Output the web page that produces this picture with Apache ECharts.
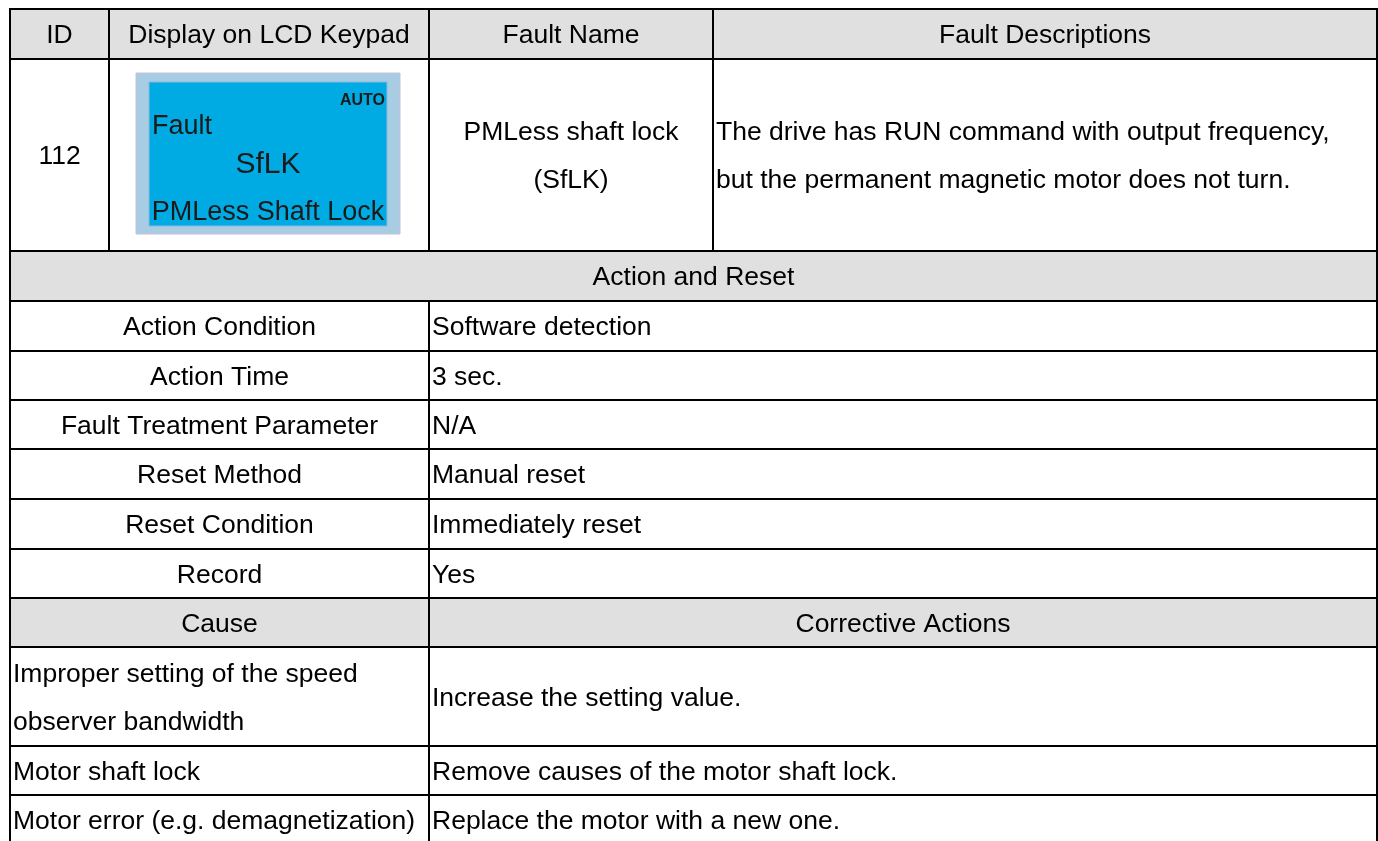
<!DOCTYPE html>
<html><head><meta charset="utf-8">
<script src="https://cdn.jsdelivr.net/npm/echarts@6/dist/echarts.min.js"></script>
<style>html,body{margin:0;padding:0;background:#fff}#c{width:1378px;height:841px}</style>
</head><body><div id="c"></div>
<script>
// ---- content ----
const headers = ['ID', 'Display on LCD Keypad', 'Fault Name', 'Fault Descriptions'];
const faultId = '112';
const lcdLines = ['AUTO', 'Fault', 'SfLK', 'PMLess Shaft Lock'];
const faultName = 'PMLess shaft lock\n(SfLK)';
const faultDesc = 'The drive has RUN command with output frequency,\nbut the permanent magnetic motor does not turn.';
const sectionTitle = 'Action and Reset';
const actionLabels = ['Action Condition', 'Action Time', 'Fault Treatment Parameter', 'Reset Method', 'Reset Condition', 'Record'];
const actionValues = ['Software detection', '3 sec.', 'N/A', 'Manual reset', 'Immediately reset', 'Yes'];
const causeHeaders = ['Cause', 'Corrective Actions'];
const causes = ['Improper setting of the speed\nobserver bandwidth', 'Motor shaft lock', 'Motor error (e.g. demagnetization)'];
const actions = ['Increase the setting value.', 'Remove causes of the motor shaft lock.', 'Replace the motor with a new one.'];

// ---- layout (axis units = px inside grid) ----
const TABLE_W = 1367, GRID_H = 832;
const TOP_COLS = [0, 99, 419, 703, TABLE_W];
const LOW_COLS = [0, 419, TABLE_W];
// last row runs past the bottom of the picture (table is cut off there)
const ROWS = [0, 50, 242, 292, 342, 391, 440, 490, 540, 589, 638, 737, 786, 835];
const HEAD = '#e0e0e0';
const FF = '"Liberation Sans", Arial, sans-serif';
const FONT = '26.5px ' + FF;
const TEXT_DY = 2;

const cells = [];
function add(r, c0, c1, text, opt) { cells.push(Object.assign({ r, c0, c1, text }, opt || {})); }
headers.forEach((h, i) => add(0, TOP_COLS[i], TOP_COLS[i + 1], h, { fill: HEAD, align: 'center' }));
add(1, TOP_COLS[0], TOP_COLS[1], faultId, { align: 'center' });
add(1, TOP_COLS[1], TOP_COLS[2], '', { lcd: true });
add(1, TOP_COLS[2], TOP_COLS[3], faultName, { align: 'center' });
add(1, TOP_COLS[3], TOP_COLS[4], faultDesc, { align: 'left' });
add(2, 0, TABLE_W, sectionTitle, { fill: HEAD, align: 'center' });
actionLabels.forEach((l, i) => {
  add(3 + i, LOW_COLS[0], LOW_COLS[1], l, { align: 'center' });
  add(3 + i, LOW_COLS[1], LOW_COLS[2], actionValues[i], { align: 'left' });
});
causeHeaders.forEach((h, i) => add(9, LOW_COLS[i], LOW_COLS[i + 1], h, { fill: HEAD, align: 'center' }));
causes.forEach((c, i) => {
  add(10 + i, LOW_COLS[0], LOW_COLS[1], c, { align: 'left' });
  add(10 + i, LOW_COLS[1], LOW_COLS[2], actions[i], { align: 'left' });
});

function renderItem(params, api) {
  const c = cells[params.dataIndex];
  const p0 = api.coord([c.c0, ROWS[c.r]]);
  const p1 = api.coord([c.c1, ROWS[c.r + 1]]);
  const x = p0[0], y = p0[1], w = p1[0] - p0[0], h = p1[1] - p0[1];
  const ch = [{ type: 'rect', shape: { x, y, width: w, height: h }, style: { fill: c.fill || '#fff', stroke: '#000', lineWidth: 2 } }];
  if (c.text) {
    ch.push({ type: 'text', style: {
      text: c.text, x: c.align === 'center' ? x + w / 2 : x + 3, y: y + h / 2 + TEXT_DY,
      align: c.align, verticalAlign: 'middle', font: FONT, lineHeight: 48, fill: '#000'
    } });
  }
  if (c.lcd) {
    const ox = x + 27, oy = y + 14;
    ch.push({ type: 'rect', shape: { x: ox, y: oy, width: 264, height: 161 }, style: { fill: '#a8cce2', stroke: '#c8c0e0', lineWidth: 1 } });
    const ix = x + 40, iy = y + 23, iw = 238, ih = 144;
    ch.push({ type: 'rect', shape: { x: ix, y: iy, width: iw, height: ih }, style: { fill: '#00aae2', stroke: '#8fb6e0', lineWidth: 1 } });
    const col = '#1a1a1a';
    ch.push({ type: 'text', style: { text: lcdLines[0], x: ix + iw - 2, y: iy + 19, align: 'right', verticalAlign: 'middle', font: 'bold 16px ' + FF, fill: col } });
    ch.push({ type: 'text', style: { text: lcdLines[1], x: ix + 3, y: iy + 45, align: 'left', verticalAlign: 'middle', font: '27px ' + FF, fill: col } });
    ch.push({ type: 'text', style: { text: lcdLines[2], x: ix + iw / 2, y: iy + 83, align: 'center', verticalAlign: 'middle', font: '30px ' + FF, fill: col } });
    ch.push({ type: 'text', style: { text: lcdLines[3], x: ix + iw / 2, y: iy + 131, align: 'center', verticalAlign: 'middle', font: '27px ' + FF, fill: col } });
  }
  return { type: 'group', children: ch };
}

const chart = echarts.init(document.getElementById('c'), null, { renderer: 'canvas' });
chart.setOption({
  animation: false,
  backgroundColor: '#fff',
  grid: { left: 10, top: 9, width: TABLE_W, height: GRID_H, outerBoundsMode: 'none', containLabel: false },
  xAxis: { type: 'value', min: 0, max: TABLE_W, show: false },
  yAxis: { type: 'value', min: 0, max: GRID_H, inverse: true, show: false },
  series: [{
    type: 'custom', renderItem, clip: false,
    data: cells.map((c, i) => [i]),
    encode: { x: [], y: [] }
  }]
});
</script></body></html>
